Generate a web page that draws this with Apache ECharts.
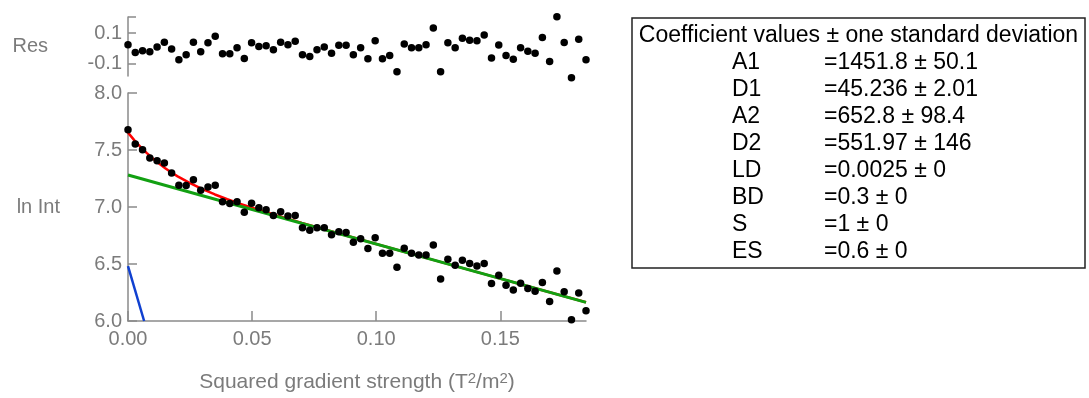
<!DOCTYPE html>
<html>
<head>
<meta charset="utf-8">
<style>
  html, body { margin: 0; padding: 0; background: #ffffff; }
  #chart { width: 1089px; height: 398px; }
</style>
<script src="https://cdn.jsdelivr.net/npm/echarts@6/dist/echarts.min.js"></script>
</head>
<body>
<div id="chart"></div>
<script>
// Squared gradient strength values (T^2/m^2) of the measured points
const gradSq = [
  0.00000, 0.00293, 0.00586, 0.00879, 0.01172, 0.01465, 0.01757, 0.02050,
  0.02343, 0.02636, 0.02929, 0.03222, 0.03515, 0.03808, 0.04101, 0.04394,
  0.04686, 0.04979, 0.05272, 0.05565, 0.05858, 0.06151, 0.06444, 0.06737,
  0.07030, 0.07323, 0.07615, 0.07908, 0.08201, 0.08494, 0.08787, 0.09080,
  0.09373, 0.09666, 0.09959, 0.10252, 0.10544, 0.10837, 0.11130, 0.11423,
  0.11716, 0.12009, 0.12302, 0.12595, 0.12888, 0.13181, 0.13473, 0.13766,
  0.14059, 0.14352, 0.14645, 0.14938, 0.15231, 0.15524, 0.15817, 0.16110,
  0.16402, 0.16695, 0.16988, 0.17281, 0.17574, 0.17867, 0.18160, 0.18453
];

// ln of the measured intensity
const lnInt = [
  7.677, 7.552, 7.502, 7.430, 7.406, 7.386, 7.299, 7.190,
  7.188, 7.238, 7.147, 7.176, 7.190, 7.045, 7.031, 7.045,
  6.955, 7.033, 6.993, 6.976, 6.926, 6.958, 6.920, 6.926,
  6.818, 6.795, 6.818, 6.818, 6.757, 6.783, 6.777, 6.690,
  6.722, 6.635, 6.731, 6.594, 6.594, 6.472, 6.638, 6.594,
  6.579, 6.579, 6.666, 6.369, 6.541, 6.489, 6.533, 6.504,
  6.483, 6.504, 6.329, 6.402, 6.314, 6.273, 6.332, 6.286,
  6.260, 6.338, 6.172, 6.439, 6.256, 6.011, 6.245, 6.090
];

// Fit residuals
const residuals = [
   0.024, -0.026, -0.015, -0.022,  0.009,  0.041, -0.004, -0.074,
  -0.041,  0.041, -0.022,  0.037,  0.080, -0.035, -0.035,  0.005,
  -0.065,  0.037,  0.013,  0.018, -0.008,  0.041,  0.024,  0.046,
  -0.041, -0.052, -0.008,  0.009, -0.031,  0.020,  0.020, -0.041,
   0.005, -0.067,  0.050, -0.067, -0.046, -0.152,  0.028,  0.005,
   0.005,  0.024,  0.133, -0.152,  0.037,  0.005,  0.067,  0.054,
   0.050,  0.087, -0.063,  0.022, -0.046, -0.070,  0.005, -0.018,
  -0.031,  0.072, -0.085,  0.207,  0.039, -0.191,  0.059, -0.074
];

// Two-component fit (red), slow component (green), fast component (blue)
const fitTotal = [
  [0, 7.652], [0.0025, 7.587], [0.005, 7.528], [0.0075, 7.475], [0.01, 7.426],
  [0.0125, 7.381], [0.015, 7.340], [0.0175, 7.303], [0.02, 7.269], [0.025, 7.209],
  [0.03, 7.156], [0.035, 7.110], [0.04, 7.068], [0.045, 7.029], [0.05, 6.993],
  [0.06, 6.925], [0.07, 6.861], [0.08, 6.798], [0.10, 6.676], [0.12, 6.554],
  [0.14, 6.433], [0.16, 6.312], [0.18453, 6.164]
];
const fitSlow = [[0, 7.2805], [0.18453, 6.1636]];
const fitFast = [[0, 6.481], [0.0065, 6.0]];

// Coefficient table
const coefNames  = ['A1', 'D1', 'A2', 'D2', 'LD', 'BD', 'S', 'ES'];
const coefValues = ['1451.8', '45.236', '652.8', '551.97', '0.0025', '0.3', '1', '0.6'];
const coefErrors = ['50.1', '2.01', '98.4', '146', '0', '0', '0', '0'];
const tableTitle = 'Coefficient values \u00b1 one standard deviation';

// Axis ticks
const xTicks = { min: 0, max: 0.18453, interval: 0.05 };
const yTicks = { min: 6, max: 8, interval: 0.5 };
const resRange = { min: -0.18, max: 0.205 };
const resTicks = [-0.1, 0.1];

const FONT = '"Liberation Sans", Arial, sans-serif';
const AXIS_GRAY = '#8a8a8a';
const TEXT_GRAY = '#7b7b7b';

const zip = (xs, ys) => xs.map((x, i) => [x, ys[i]]);

// Table graphic
const tbl = { x: 632, y: 18, w: 453, h: 250, row: 27, labelX: 732, valueX: 824 };
const tableChildren = [
  { type: 'rect', shape: { x: tbl.x, y: tbl.y, width: tbl.w, height: tbl.h },
    style: { fill: '#ffffff', stroke: '#222222', lineWidth: 1.5 } },
  { type: 'text', x: tbl.x + tbl.w / 2, y: tbl.y + 18,
    style: { text: tableTitle, font: '23px ' + FONT, fill: '#000000',
             textAlign: 'center', textVerticalAlign: 'middle' } }
];
coefNames.forEach((name, i) => {
  const cy = tbl.y + 18 + tbl.row * (i + 1);
  tableChildren.push({ type: 'text', x: tbl.labelX, y: cy,
    style: { text: name, font: '23px ' + FONT, fill: '#000000',
             textAlign: 'left', textVerticalAlign: 'middle' } });
  tableChildren.push({ type: 'text', x: tbl.valueX, y: cy,
    style: { text: '=' + coefValues[i] + ' \u00b1 ' + coefErrors[i], font: '23px ' + FONT,
             fill: '#000000', textAlign: 'left', textVerticalAlign: 'middle' } });
});

const chart = echarts.init(document.getElementById('chart'), null, { renderer: 'canvas' });

const axisLineStyle = { lineStyle: { color: AXIS_GRAY, width: 1.5 } };
const labelStyle = { color: TEXT_GRAY, fontSize: 20, fontFamily: FONT };
const dotStyle = { color: '#000000', opacity: 1 };

chart.setOption({
  animation: false,
  backgroundColor: '#ffffff',
  grid: [
    { left: 128, right: 503, top: 17, height: 59, containLabel: false },
    { left: 128, right: 503, top: 93, height: 229, containLabel: false }
  ],
  xAxis: [
    { type: 'value', gridIndex: 0, min: xTicks.min, max: xTicks.max, show: false },
    {
      type: 'value', gridIndex: 1, min: xTicks.min, max: xTicks.max, interval: xTicks.interval,
      axisLine: { show: true, ...axisLineStyle },
      axisTick: { show: true, inside: true, length: 10, lineStyle: { color: AXIS_GRAY, width: 1.5 } },
      axisLabel: { ...labelStyle, margin: 8, showMaxLabel: false,
                   formatter: v => v.toFixed(2) },
      splitLine: { show: false },
      name: 'Squared gradient strength (T{sup|2}/m{sup|2})',
      nameLocation: 'middle',
      nameGap: 50,
      nameTextStyle: {
        ...labelStyle,
        fontSize: 21,
        rich: {
          sup: { fontSize: 15, fontFamily: FONT, color: TEXT_GRAY, verticalAlign: 'top', padding: [0, 0, 8, 0] }
        }
      }
    }
  ],
  yAxis: [
    {
      type: 'value', gridIndex: 0, min: resRange.min, max: resRange.max,
      axisLine: { show: true, ...axisLineStyle },
      axisTick: { show: true, inside: true, length: 8, customValues: resTicks.concat([resRange.max]),
                  lineStyle: { color: AXIS_GRAY, width: 1.5 } },
      axisLabel: { ...labelStyle, margin: 6, customValues: resTicks,
                   formatter: v => v.toFixed(1) },
      splitLine: { show: false },
      name: 'Res', nameLocation: 'middle', nameRotate: 0, nameGap: 80,
      nameTextStyle: { ...labelStyle }
    },
    {
      type: 'value', gridIndex: 1, min: yTicks.min, max: yTicks.max, interval: yTicks.interval,
      axisLine: { show: true, ...axisLineStyle },
      axisTick: { show: true, inside: true, length: 9, lineStyle: { color: AXIS_GRAY, width: 1.5 } },
      axisLabel: { ...labelStyle, margin: 6, formatter: v => v.toFixed(1) },
      splitLine: { show: false },
      name: 'ln Int', nameLocation: 'middle', nameRotate: 0, nameGap: 68,
      nameTextStyle: { ...labelStyle }
    }
  ],
  series: [
    {
      name: 'Residuals', type: 'scatter', xAxisIndex: 0, yAxisIndex: 0,
      data: zip(gradSq, residuals), symbolSize: 7.5, clip: false,
      itemStyle: dotStyle, z: 5
    },
    {
      name: 'Fast', type: 'line', xAxisIndex: 1, yAxisIndex: 1, data: fitFast,
      showSymbol: false, lineStyle: { color: '#1040d0', width: 2.5 }, z: 2
    },
    {
      name: 'Total fit', type: 'line', xAxisIndex: 1, yAxisIndex: 1, data: fitTotal,
      smooth: false, showSymbol: false,
      lineStyle: { color: '#ff0000', width: 2.5 }, z: 2
    },
    {
      name: 'Slow', type: 'line', xAxisIndex: 1, yAxisIndex: 1, data: fitSlow,
      showSymbol: false, lineStyle: { color: '#12a012', width: 3 }, z: 3
    },
    {
      name: 'ln Int', type: 'scatter', xAxisIndex: 1, yAxisIndex: 1,
      data: zip(gradSq, lnInt), symbolSize: 7.5, clip: false,
      itemStyle: dotStyle, z: 5
    }
  ],
  graphic: [{ type: 'group', children: tableChildren }]
});
</script>
</body>
</html>
